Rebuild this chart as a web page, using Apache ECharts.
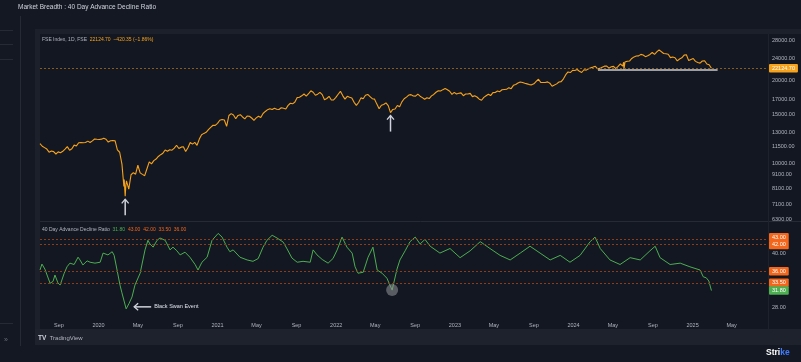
<!DOCTYPE html>
<html><head><meta charset="utf-8">
<script src="https://cdn.jsdelivr.net/npm/echarts@6/dist/echarts.min.js"></script>
<style>html,body{margin:0;padding:0;background:#141823;overflow:hidden}#c{width:801px;height:362px}</style>
</head><body><div id="c"></div><script>
// ---------- DATA ----------
const weekStart = '2019-07-05'; // weekly (Friday) closes start here
const price2019 = [11811,11552,11419,11284,10997,11109,11048,10829,11023,10946,11076,11274,11512,11174,11305,11662,11584,11891,11908,11895,11914,12056,11921,12086,12272,12246];
const price2020 = [12226,12257,12352,12248,11962,12098,12113,12080,11202,10989,9955,8745,8660,8084,9112,9267,9154,9860,9251,9137,9039,9580,10142,9972,10244,10383,10608,10768,10902,11194,11073,11214,11178,11372,11647,11333,11464,11505,11050,11417,11914,11762,11930,11642,12264,12720,12859,12969,13258,13514,13761,13749];
const price2021 = [13982,14347,14433,14372,13635,14924,15163,14982,14529,14938,15031,14744,14507,14867,14835,14617,14341,14631,14823,14678,15175,15436,15670,15799,15683,15860,15722,15690,15924,15856,15763,16238,16529,16450,16705,17324,17369,17585,17853,17532,17895,18338,18114,17672,17829,18102,17765,17026,17196,17511,16985,17004,17354];
const price2022 = [17813,18255,17617,17101,17516,17374,17276,16658,16245,16630,17287,17153,17670,17784,17475,17172,17103,16411,15782,16266,16352,16584,16202,15294,15699,15752,16221,16049,16719,17158,17398,17698,17758,17559,17539,17833,17531,17327,17094,17315,17186,17576,17787,18117,18350,18308,18513,18697,18497,18269,17807,18105];
const price2023 = [17859,17956,18027,17604,17854,17856,17944,17466,17594,17413,17100,16945,17360,17600,17828,17624,18065,18069,18315,18203,18499,18534,18563,18826,18665,19189,19332,19565,19745,19646,19517,19428,19310,19266,19435,19820,20192,19674,19638,19653,19751,19542,19047,19230,19425,19732,19795,20268,20969,21457,21349,21731];
const price2024 = [21711,21895,21572,21353,21854,21783,22041,22213,22339,22494,22023,22097,22327,22514,22519,22147,22420,22476,22055,22467,22957,22531,23290,23466,23501,24011,24324,24502,24531,24835,24718,24368,24541,24823,25236,24852,25357,25791,26179,25015,24964,24854,24181,24305,24148,23533,23907,24131,24678,24768,23588,23814];
const price2025 = [24005,23432,23203,23092,23508,23560,22930,22796,22125];
const priceExtremeDates = ['2020-03-19','2020-03-23','2020-03-25','2024-06-03','2024-06-04','2024-09-26'];
const priceExtremeValues = [8264,7610,8318,23264,21884,26216];

const adDates = ['2019-07-05','2019-07-11','2019-07-20','2019-08-05','2019-08-14','2019-08-20','2019-08-29','2019-09-05','2019-09-17','2019-09-26','2019-10-05','2019-10-18','2019-10-30','2019-11-05','2019-11-14','2019-11-27','2019-12-06','2019-12-21',
'2020-01-06','2020-01-15','2020-01-30','2020-02-12','2020-02-18','2020-02-27','2020-03-07','2020-03-13','2020-03-26','2020-04-04','2020-04-13','2020-04-22','2020-05-08','2020-05-23','2020-06-01','2020-06-07','2020-06-17','2020-06-29','2020-07-08','2020-07-24','2020-08-08','2020-08-17','2020-08-29','2020-09-08','2020-09-23','2020-10-08','2020-10-24','2020-11-02','2020-11-14','2020-11-30','2020-12-15',
'2021-01-03','2021-01-15','2021-01-30','2021-02-08','2021-02-18','2021-03-11','2021-04-02','2021-04-20','2021-05-06','2021-05-21','2021-06-02','2021-06-18','2021-07-03','2021-07-22','2021-08-03','2021-08-18','2021-09-03','2021-09-21','2021-10-13','2021-10-22','2021-11-03','2021-11-19','2021-12-07','2021-12-22',
'2022-01-04','2022-01-19','2022-02-03','2022-02-19','2022-02-28','2022-03-09','2022-03-25','2022-04-09','2022-04-24','2022-05-07','2022-05-22','2022-06-06','2022-06-22','2022-07-07','2022-07-16','2022-08-01','2022-08-16','2022-09-01','2022-09-16','2022-10-01','2022-10-17','2022-11-16','2022-12-17',
'2023-01-17','2023-02-17','2023-03-20','2023-04-19','2023-05-20','2023-06-20','2023-07-21','2023-08-20','2023-09-20','2023-10-21','2023-11-21','2023-12-21',
'2024-01-21','2024-02-21','2024-03-07','2024-03-23','2024-04-22','2024-05-23','2024-06-23','2024-07-24','2024-08-23','2024-09-08','2024-09-23','2024-10-24','2024-11-24','2024-12-24',
'2025-01-24','2025-02-03','2025-02-12','2025-02-20','2025-02-24','2025-02-28'];
const adValues = [36.3,37.6,36.5,33.4,33.8,35.2,33.5,33.0,35.5,37.0,37.8,37.5,39.1,38.5,37.4,38.3,38.0,37.8,
38.0,40.0,39.6,40.3,39.5,36.3,33.0,31.3,27.8,29.0,30.4,33.0,35.6,40.7,42.8,42.0,41.3,42.8,43.3,42.8,40.7,41.3,40.5,39.6,40.2,39.1,37.5,36.3,38.0,39.1,42.8,
44.3,43.5,41.3,40.3,40.7,39.1,38.5,38.2,38.8,41.3,42.8,43.9,43.3,42.4,40.9,38.9,38.0,38.2,38.0,40.7,39.6,38.6,37.8,38.8,
40.7,43.5,41.3,40.0,37.0,35.6,35.8,39.1,41.3,36.3,35.6,34.5,31.9,36.5,38.5,40.5,42.5,43.5,42.0,43.0,41.5,40.0,41.0,
39.0,40.5,42.5,41.0,39.5,38.5,40.0,41.5,40.0,38.5,39.5,38.0,
39.5,42.5,43.5,41.0,38.5,37.5,39.0,38.5,40.5,41.5,39.0,37.5,37.8,37.0,
36.3,34.8,34.6,33.9,34.2,31.8];

const levelValues = [43, 42, 36, 33.5];
const lastPrice = 22124.70, priceChange = -420.35, priceChangePct = -1.86;
const lastAD = 31.80;
const priceTicks = [6300,7100,8100,9100,10000,11500,13000,15000,17000,20000,24000,28000];
const adTicks = [28, 40];
const timeTicks = ['2019-09-01','2020-01-01','2020-05-01','2020-09-01','2021-01-01','2021-05-01','2021-09-01','2022-01-01','2022-05-01','2022-09-01','2023-01-01','2023-05-01','2023-09-01','2024-01-01','2024-05-01','2024-09-01','2025-01-01','2025-05-01'];
const supportLevel = 21890, supportFrom = '2024-03-16', supportTo = '2025-03-19';
const xStart = '2019-07-05', xEnd = '2025-08-21';
const priceMin = 6196, priceMax = 29436, adMin = 25.8, adMax = 46.8;

// ---------- BUILD ----------
const T = s => { const p = s.split('-').map(Number); return new Date(p[0], p[1]-1, p[2]).getTime(); };
const ws = weekStart.split('-').map(Number);
const pricePts = [].concat(price2019, price2020, price2021, price2022, price2023, price2024, price2025)
  .map((v, i) => [new Date(ws[0], ws[1]-1, ws[2] + 7*i).getTime(), v]);
priceExtremeDates.forEach((d, i) => pricePts.push([T(d), priceExtremeValues[i]]));
pricePts.sort((a, b) => a[0] - b[0]);
const adPts = adDates.map((d, i) => [T(d), adValues[i]]);
const months = ['Jan','Feb','Mar','Apr','May','Jun','Jul','Aug','Sep','Oct','Nov','Dec'];

const FONT = 'Liberation Sans, Arial, sans-serif';
const AXT = '#b2b5be';
const ORANGE = '#f7a21b';
const RED_OR = '#f4661b';
const GREEN = '#4caf50';

const chart = echarts.init(document.getElementById('c'), null, {renderer: 'canvas'});
const tag = (txt, bg) => ({show: true, position: 'end', distance: 1, formatter: txt, backgroundColor: bg, color: '#fff', fontSize: 5.5, fontFamily: FONT, padding: [1.5, 3, 1, 3], borderRadius: 1});

chart.setOption({
  backgroundColor: '#141823',
  animation: false,
  textStyle: {fontFamily: FONT},
  grid: [{left: 40, right: 33, top: 34, height: 187}, {left: 40, right: 33, top: 222, height: 96}],
  xAxis: [
    {type: 'value', gridIndex: 0, min: T(xStart), max: T(xEnd), axisLine: {show: false}, axisTick: {show: false}, axisLabel: {show: false}, splitLine: {show: false}},
    {type: 'value', gridIndex: 1, min: T(xStart), max: T(xEnd), axisLine: {show: false}, axisTick: {show: false}, splitLine: {show: false},
      axisLabel: {customValues: timeTicks.map(T), color: AXT, fontSize: 5.5, margin: 4, hideOverlap: false,
        formatter: v => { const d = new Date(v); return d.getMonth() === 0 ? String(d.getFullYear()) : months[d.getMonth()]; }}}
  ],
  yAxis: [
    {type: 'log', logBase: 10, gridIndex: 0, position: 'right', min: priceMin, max: priceMax, axisLine: {show: false}, axisTick: {show: false}, splitLine: {show: false},
      axisLabel: {customValues: priceTicks, color: AXT, fontSize: 5.5, margin: 4, formatter: v => Number(v).toFixed(2)}},
    {type: 'value', gridIndex: 1, position: 'right', min: adMin, max: adMax, axisLine: {show: false}, axisTick: {show: false}, splitLine: {show: false},
      axisLabel: {customValues: adTicks, color: AXT, fontSize: 5.5, margin: 4, formatter: v => Number(v).toFixed(2)}}
  ],
  series: [
    {type: 'line', xAxisIndex: 0, yAxisIndex: 0, data: pricePts, showSymbol: false, symbol: 'none',
      lineStyle: {color: ORANGE, width: 1.1}, z: 3,
      markLine: {symbol: ['none', 'none'], silent: true, animation: false,
        data: [
          {yAxis: lastPrice, lineStyle: {color: '#8c5a18', type: [2, 2], width: 1}, label: tag(lastPrice.toFixed(2), ORANGE)},
          [{coord: [T(supportFrom), supportLevel], lineStyle: {color: '#c9ccd6', type: 'solid', width: 1.6}, label: {show: false}},
           {coord: [T(supportTo), supportLevel]}]
        ]}},
    {type: 'line', xAxisIndex: 1, yAxisIndex: 1, data: adPts, showSymbol: false, symbol: 'none',
      lineStyle: {color: GREEN, width: 1}, z: 3,
      markLine: {symbol: ['none', 'none'], silent: true, animation: false,
        data: levelValues.map((v, i) => {
          const l = tag(v.toFixed(2), RED_OR);
          if (i === 0) l.offset = [0, -2];
          if (i === 1) l.offset = [0, 1];
          return {yAxis: v, lineStyle: {color: '#8a3d17', type: [2, 2], width: 1}, label: l};
        }).concat([{yAxis: lastAD, lineStyle: {color: 'rgba(0,0,0,0)', width: 0.01}, label: tag(lastAD.toFixed(2), GREEN)}])
      }}
  ]
});

// ---------- FRAME / ANNOTATIONS ----------
const p = (grid, d, v) => chart.convertToPixel({xAxisIndex: grid, yAxisIndex: grid}, [T(d), v]);
const a1 = p(0, '2020-03-23', 7610);
const a2 = p(0, '2022-06-17', 15294);
const c1 = p(1, '2022-06-22', 31.9);
const a3 = p(1, '2020-03-26', 27.8);
const WH = '#d0d3db';
const upArrow = (x, y) => [
  {type: 'polyline', shape: {points: [[x, y + 3], [x, y + 19]]}, style: {stroke: WH, lineWidth: 1.5}, z: 20},
  {type: 'polyline', shape: {points: [[x - 3.5, y + 7], [x, y + 3], [x + 3.5, y + 7]]}, style: {stroke: WH, lineWidth: 1.3, fill: null}, z: 20}
];
const txt = (x, y, text, fill, size) => ({type: 'text', x, y, z: 20, style: {text, fill, fontSize: size, fontFamily: FONT, verticalAlign: 'middle'}});

chart.setOption({graphic: [
  {type: 'rect', shape: {x: 35, y: 29, width: 766, height: 316}, style: {fill: '#1c202b'}, z: -10, silent: true},
  {type: 'rect', shape: {x: 40, y: 34, width: 761, height: 295}, style: {fill: '#131722'}, z: -9, silent: true},
  {type: 'rect', shape: {x: 35, y: 329, width: 766, height: 16}, style: {fill: '#1e222d'}, z: -9, silent: true},
  {type: 'line', shape: {x1: 40, y1: 221.5, x2: 801, y2: 221.5}, style: {stroke: '#262a35', lineWidth: 1}, z: -5},
  {type: 'line', shape: {x1: 768.5, y1: 34, x2: 768.5, y2: 329}, style: {stroke: '#1e222d', lineWidth: 1}, z: -5},
  {type: 'line', shape: {x1: 20.5, y1: 16, x2: 20.5, y2: 346}, style: {stroke: '#262a35', lineWidth: 1}, z: -5},
  {type: 'line', shape: {x1: 0, y1: 30.5, x2: 13, y2: 30.5}, style: {stroke: '#262a35', lineWidth: 1}, z: -5},
  {type: 'line', shape: {x1: 0, y1: 44.5, x2: 13, y2: 44.5}, style: {stroke: '#262a35', lineWidth: 1}, z: -5},
  {type: 'line', shape: {x1: 0, y1: 59.5, x2: 13, y2: 59.5}, style: {stroke: '#262a35', lineWidth: 1}, z: -5},
  {type: 'line', shape: {x1: 0, y1: 323.5, x2: 13, y2: 323.5}, style: {stroke: '#262a35', lineWidth: 1}, z: -5},
  txt(4, 340, '»', '#6a6e78', 7),
  txt(18, 7.5, 'Market Breadth : 40 Day Advance Decline Ratio', '#d1d4dc', 6.5),
  {type: 'text', x: 42, y: 40, z: 20, style: {text: '{a|FSE Index, 1D, FSE}  {b|' + lastPrice.toFixed(2) + '}  {b|\u2212' + Math.abs(priceChange).toFixed(2) + ' (\u2212' + Math.abs(priceChangePct).toFixed(2) + '%)}',
    fontSize: 5, fontFamily: FONT, verticalAlign: 'middle', rich: {a: {fill: '#b2b5be', fontSize: 5, fontFamily: FONT}, b: {fill: ORANGE, fontSize: 5, fontFamily: FONT}}}},
  {type: 'text', x: 42, y: 230, z: 20, style: {text: '{a|40 Day Advance Decline Ratio}  {g|' + lastAD.toFixed(2) + '}  {o|' + levelValues[0].toFixed(2) + '}  {o|' + levelValues[1].toFixed(2) + '}  {o|' + levelValues[3].toFixed(2) + '}  {o|' + levelValues[2].toFixed(2) + '}',
    fontSize: 5, fontFamily: FONT, verticalAlign: 'middle', rich: {a: {fill: '#b2b5be', fontSize: 5, fontFamily: FONT}, g: {fill: GREEN, fontSize: 5, fontFamily: FONT}, o: {fill: RED_OR, fontSize: 5, fontFamily: FONT}}}},
  ...upArrow(a1[0], a1[1]),
  ...upArrow(a2[0], a2[1]),
  {type: 'circle', shape: {cx: c1[0], cy: c1[1], r: 6}, style: {fill: 'rgba(150,150,155,0.55)'}, z: 19},
  {type: 'polyline', shape: {points: [[a3[0] + 8, a3[1] - 2], [a3[0] + 25, a3[1] - 2]]}, style: {stroke: WH, lineWidth: 1.5}, z: 20},
  {type: 'polyline', shape: {points: [[a3[0] + 12, a3[1] - 5.5], [a3[0] + 8, a3[1] - 2], [a3[0] + 12, a3[1] + 1.5]]}, style: {stroke: WH, lineWidth: 1.3, fill: null}, z: 20},
  txt(a3[0] + 28, a3[1] - 2, 'Black Swan Event', '#e0e3eb', 5.5),
  {type: 'text', x: 38, y: 338, z: 20, style: {text: '{l|TV} {t|TradingView}', verticalAlign: 'middle', fontFamily: FONT,
    rich: {l: {fill: '#d1d4dc', fontSize: 6.5, fontWeight: 'bold', fontFamily: FONT}, t: {fill: '#b2b5be', fontSize: 6, fontFamily: FONT}}}},
  {type: 'text', x: 766, y: 353, z: 20, style: {text: '{w|Stri}{b|ke}', verticalAlign: 'middle', fontFamily: FONT,
    rich: {w: {fill: '#ffffff', fontSize: 8.5, fontWeight: 'bold', fontFamily: FONT}, b: {fill: '#3d7bff', fontSize: 8.5, fontWeight: 'bold', fontFamily: FONT}}}}
]});
</script></body></html>
